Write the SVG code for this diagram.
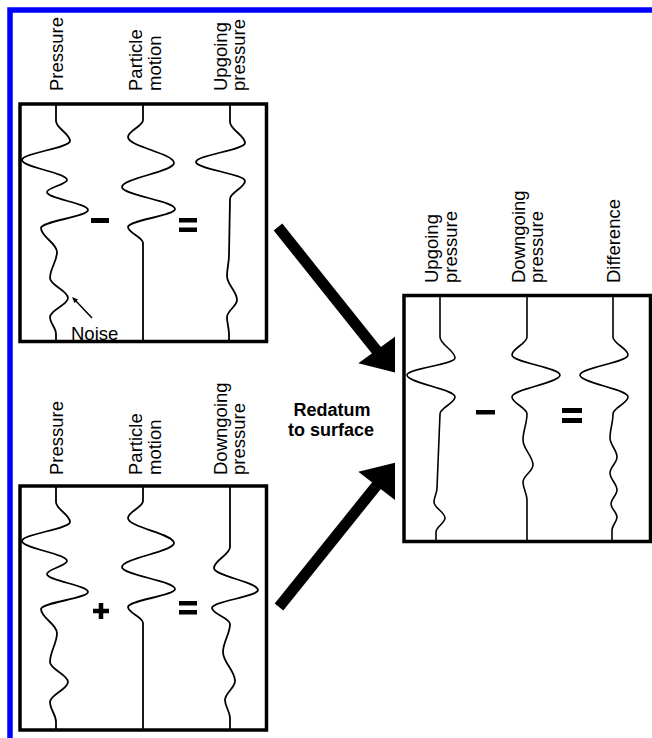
<svg xmlns="http://www.w3.org/2000/svg" width="652" height="738" viewBox="0 0 652 738">
<style>
.box{fill:none;stroke:#000;stroke-width:3.5}
.tr{fill:none;stroke:#000;stroke-width:1.8;stroke-linejoin:round}
.trt{fill:none;stroke:#000;stroke-width:1.6;stroke-linejoin:round}
.lbl{font-family:"Liberation Sans",Arial,sans-serif;font-size:18.5px;fill:#000}
.bold{font-family:"Liberation Sans",Arial,sans-serif;font-size:18px;font-weight:bold;fill:#000;text-anchor:middle}
.sign{fill:#000}
.shaft{stroke:#000;stroke-width:11;fill:none}
</style>
<rect x="0" y="0" width="652" height="738" fill="#fff"/>
<rect x="10" y="10" width="700" height="800" fill="none" stroke="#0000ff" stroke-width="5.5"/>

<g id="box-upgoing">
<rect class="box" x="20" y="104" width="246.5" height="237.5"/>
<text class="lbl" transform="translate(62.5,91) rotate(-90)">Pressure</text>
<text class="lbl" transform="translate(141.5,91) rotate(-90)">Particle<tspan x="0" dy="19">motion</tspan></text>
<text class="lbl" transform="translate(226.5,91) rotate(-90)">Upgoing<tspan x="0" dy="18.5">pressure</tspan></text>
<path class="tr" d="M56,104 L56,121 C56,128.4 70,133.6 70,141 C70,148 22,153 22,160 C22,167.4 67,172.6 67,180 C67,184.4 47,187.6 47,192 C47,198.7 88,203.3 88,210 C88,216.7 41,221.3 41,228 C41,236.9 57,243.1 57,252 C57,261.6 50,268.4 50,278 C50,285.4 68,290.6 68,298 C68,305 50,310 50,317 C50,323.3 56,327.7 56,334 L56,342"/>
<path class="tr" d="M143,104 L143,120 C143,126.3 128,130.7 128,137 C128,146.6 174,153.4 174,163 C174,171.9 122,178.1 122,187 C122,195.1 175,200.9 175,209 C175,215.7 128,220.3 128,227 C128,232.9 143,237.1 143,243 L143,342"/>
<path class="tr" d="M230,104 L230,122 C230,129.8 245,135.2 245,143 C245,150 196,155 196,162 C196,169 245,174 245,181 C245,187.7 230,192.3 230,199 L229,255 C229,262.8 227,268.2 227,276 C227,284.9 237,291.1 237,300 C237,306.3 227,310.7 227,317 C227,323.3 229,327.7 229,334 L229,342"/>
<rect class="sign" x="91" y="218" width="18" height="5"/>
<rect class="sign" x="179" y="218" width="18" height="4.5"/>
<rect class="sign" x="179" y="227.5" width="18" height="4.5"/>
<line x1="92" y1="318" x2="75" y2="300" stroke="#000" stroke-width="1.5"/>
<polygon points="72,297 78,299.4 74.5,303" fill="#000"/>
<text class="lbl" x="71" y="339.5">Noise</text>
</g>

<g id="box-downgoing">
<rect class="box" x="20" y="486" width="246.5" height="244"/>
<text class="lbl" transform="translate(62.5,475) rotate(-90)">Pressure</text>
<text class="lbl" transform="translate(141.5,475) rotate(-90)">Particle<tspan x="0" dy="19">motion</tspan></text>
<text class="lbl" transform="translate(226.5,475) rotate(-90)">Downgoing<tspan x="0" dy="18.5">pressure</tspan></text>
<path class="tr" d="M56,486 L56,502 C56,509.4 70,514.6 70,522 C70,529 22,534 22,541 C22,548.4 67,553.6 67,561 C67,565.8 47,569.2 47,574 C47,580.7 88,585.3 88,592 C88,598.3 41,602.7 41,609 C41,617.9 57,624.1 57,633 C57,643.7 50,651.3 50,662 C50,669.4 68,674.6 68,682 C68,689.4 50,694.6 50,702 C50,709.4 56,714.6 56,722 L56,730"/>
<path class="tr" d="M143,486 L143,501 C143,507.3 128,511.7 128,518 C128,527.3 174,533.8 174,543 C174,551.9 122,558.1 122,567 C122,575.1 175,580.9 175,589 C175,595.7 128,600.3 128,607 C128,612.9 143,617.1 143,623 L143,730"/>
<path class="tr" d="M230,486 L230,547 C230,554.8 214,560.2 214,568 C214,576.1 258,581.9 258,590 C258,596.7 212,601.3 212,608 C212,613.9 230,618.1 230,624 C230,634.4 223,641.6 223,652 C223,662.7 235,670.3 235,681 C235,688 225,693 225,700 C225,706.7 230,711.3 230,718 L230,730"/>
<rect class="sign" x="93" y="608.75" width="16" height="4.5"/>
<rect class="sign" x="98.75" y="603" width="4.5" height="16"/>
<rect class="sign" x="179" y="601" width="18" height="4.5"/>
<rect class="sign" x="179" y="610" width="18" height="4.5"/>
</g>

<g id="box-surface">
<rect class="box" x="404" y="295.5" width="246.5" height="246"/>
<text class="lbl" transform="translate(438,283) rotate(-90)">Upgoing<tspan x="0" dy="18.5">pressure</tspan></text>
<text class="lbl" transform="translate(524.5,283) rotate(-90)">Downgoing<tspan x="0" dy="18.5">pressure</tspan></text>
<text class="lbl" transform="translate(620,283) rotate(-90)">Difference</text>
<path class="trt" d="M440,296 L440,337 C440,344.8 455,350.2 455,358 C455,364.3 407,368.7 407,375 C407,383.1 455,388.9 455,397 C455,403.3 440,407.7 440,414 L437,488 C437,493.2 434,496.8 434,502 C434,507.9 445,512.1 445,518 C445,523.2 436,526.8 436,532 L436,542"/>
<path class="trt" d="M527,296 L527,337 C527,343.7 512,348.3 512,355 C512,362.4 560,367.6 560,375 C560,383.1 512,388.9 512,397 C512,403.3 527,407.7 527,414 C527,423.6 523,430.4 523,440 C523,449.3 533,455.8 533,465 C533,471.3 523,475.7 523,482 C523,488.7 527,493.3 527,500 L527,542"/>
<path class="trt" d="M613,296 L613,337 C613,343.7 628,348.3 628,355 C628,362.4 580,367.6 580,375 C580,383.1 628,388.9 628,397 C628,403.3 613,407.7 613,414 C613,422.9 610,429.1 610,438 C610,445 617,450 617,457 C617,462.9 610,467.1 610,473 C610,479.3 617,483.7 617,490 C617,495.2 611,498.8 611,504 C611,508.8 617,512.2 617,517 C617,521.8 612,525.2 612,530 L612,542"/>
<rect class="sign" x="476" y="410" width="19" height="4.5"/>
<rect class="sign" x="562" y="408" width="20" height="5"/>
<rect class="sign" x="562" y="418" width="20" height="5"/>
</g>

<g id="connectors">
<line class="shaft" x1="278" y1="227" x2="377" y2="351"/>
<polygon points="358.3,363.3 395,336.7 395,372.5" fill="#000"/>
<line class="shaft" x1="279" y1="607" x2="377" y2="485"/>
<polygon points="358.3,471.7 395,462.7 395,500" fill="#000"/>
<g id="connector-label">
<text class="bold" x="332" y="416">Redatum</text>
<text class="bold" x="331" y="436">to surface</text>
</g>
</g>
</svg>
